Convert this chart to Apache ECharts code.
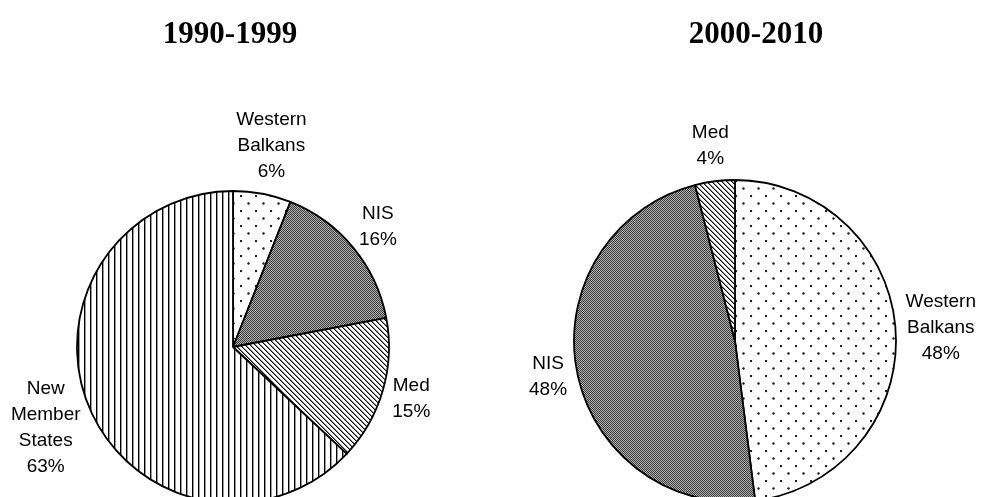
<!DOCTYPE html>
<html>
<head>
<meta charset="utf-8">
<script src="https://cdn.jsdelivr.net/npm/echarts@6/dist/echarts.min.js"></script>
<style>
  html, body { margin: 0; padding: 0; background: #fff; }
  #main { width: 984px; height: 497px; }
</style>
</head>
<body>
<div id="main"></div>
<script>
// data
var titles = ['1990-1999', '2000-2010'];
var regions1 = ['Western Balkans', 'NIS', 'Med', 'New Member States'];
var shares1 = [6, 16, 15, 63];
var regions2 = ['Western Balkans', 'NIS', 'Med'];
var shares2 = [48, 48, 4];

// fill patterns (black & white print look)
function tile(w, h, draw) {
    var c = document.createElement('canvas');
    c.width = w; c.height = h;
    var ctx = c.getContext('2d');
    ctx.fillStyle = '#fff';
    ctx.fillRect(0, 0, w, h);
    draw(ctx);
    return { image: c, repeat: 'repeat' };
}
var patterns = {
    'Western Balkans': tile(15, 15, function (ctx) {
        ctx.fillStyle = '#1a1a1a';
        [[1, 1], [8.5, 8.5]].forEach(function (p) {
            ctx.beginPath();
            ctx.arc(p[0], p[1], 1.2, 0, Math.PI * 2);
            ctx.fill();
        });
    }),
    'NIS': tile(2, 2, function (ctx) {
        ctx.fillStyle = '#b0b0b0';
        ctx.fillRect(0, 0, 2, 2);
        ctx.fillStyle = '#3c3c3c';
        ctx.fillRect(0, 0, 1, 1);
        ctx.fillRect(1, 1, 1, 1);
    }),
    'Med': tile(5, 5, function (ctx) {
        for (var i = 0; i < 5; i++) {
            ctx.fillStyle = '#000';
            ctx.fillRect(i, i, 1, 1);
            ctx.fillStyle = '#888';
            ctx.fillRect((i + 1) % 5, i, 1, 1);
        }
    }),
    'New Member States': tile(6, 6, function (ctx) {
        ctx.fillStyle = '#000';
        ctx.fillRect(0, 0, 1, 6);
        ctx.fillStyle = '#999';
        ctx.fillRect(1, 0, 1, 6);
    })
};

function build(names, vals) {
    return names.map(function (n, i) {
        return { name: n, value: vals[i], itemStyle: { color: patterns[n] } };
    });
}

// put each label just outside the pie along the middle of its slice
function outsideLayout(vals, cx, cy, r, gap) {
    var total = vals.reduce(function (a, b) { return a + b; }, 0);
    return function (p) {
        var before = 0;
        for (var k = 0; k < p.dataIndex; k++) before += vals[k];
        var mid = (before + vals[p.dataIndex] / 2) / total * Math.PI * 2;
        var sx = Math.sin(mid), sy = -Math.cos(mid);
        var hw = p.labelRect.width / 2 * sx, hh = p.labelRect.height / 2 * sy;
        var d = r + gap + Math.sqrt(hw * hw + hh * hh);
        return { x: cx + d * sx, y: cy + d * sy, align: 'center', verticalAlign: 'middle' };
    };
}

var labelStyle = {
    show: true,
    position: 'outside',
    fontFamily: 'Liberation Sans',
    fontSize: 19,
    lineHeight: 26,
    color: '#000',
    formatter: function (p) {
        return p.name.split(' ').join('\n') + '\n' + Math.round(p.percent) + '%';
    }
};

var titleStyle = { fontFamily: 'Liberation Serif', fontWeight: 'bold', fontSize: 31, color: '#000' };

var myChart = echarts.init(document.getElementById('main'), null, { renderer: 'canvas' });

var option = {
    backgroundColor: '#fff',
    animation: false,
    title: [
        { text: titles[0], left: 225, top: 14, textAlign: 'center', textStyle: titleStyle },
        { text: titles[1], left: 751, top: 14, textAlign: 'center', textStyle: titleStyle }
    ],
    series: [
        {
            type: 'pie',
            center: [233, 347],
            radius: 156,
            startAngle: 90,
            clockwise: true,
            avoidLabelOverlap: false,
            silent: true,
            data: build(regions1, shares1),
            itemStyle: { borderColor: '#000', borderWidth: 1.8 },
            label: labelStyle,
            labelLine: { show: false },
            labelLayout: outsideLayout(shares1, 233, 347, 156, 10)
        },
        {
            type: 'pie',
            center: [735, 341],
            radius: 161,
            startAngle: 90,
            clockwise: true,
            avoidLabelOverlap: false,
            silent: true,
            data: build(regions2, shares2),
            itemStyle: { borderColor: '#000', borderWidth: 1.8 },
            label: labelStyle,
            labelLine: { show: false },
            labelLayout: outsideLayout(shares2, 735, 341, 161, 10)
        }
    ]
};

myChart.setOption(option);
</script>
</body>
</html>
